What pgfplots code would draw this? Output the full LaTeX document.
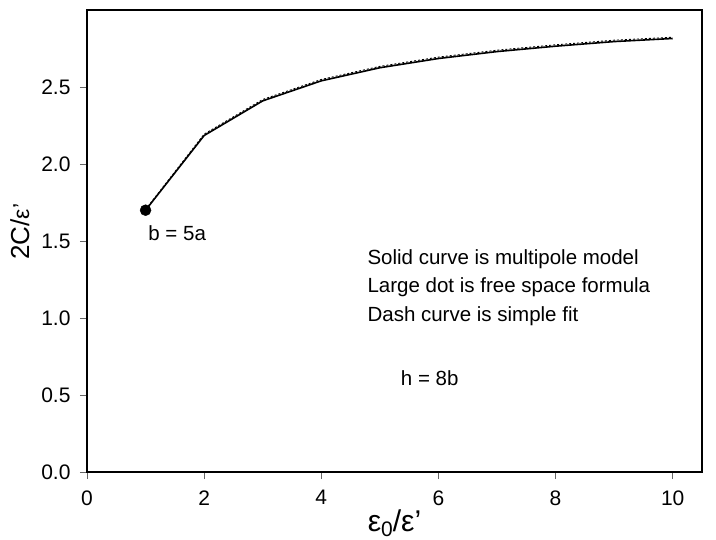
\documentclass[border=0pt]{standalone}
\usepackage{pgfplots}
\pgfplotsset{compat=1.18}
\usepackage{fontspec}
\setmainfont{Liberation Sans}
\begin{document}
\begin{tikzpicture}
\begin{axis}[
  scale only axis,
  width=615pt, height=462pt,
  xmin=0, xmax=10.5, ymin=0, ymax=3,
  xtick={0,2,4,6,8,10},
  ytick={0,0.5,1,1.5,2,2.5},
  yticklabel style={/pgf/number format/fixed,/pgf/number format/fixed zerofill,/pgf/number format/precision=1, xshift=-6pt},
  xticklabel style={yshift=-8pt},
  /pgf/number format/assume math mode=true,
  tick label style={font=\fontsize{21}{23}\selectfont},
  axis line style={line width=1.5pt},
  tick style={line width=0.8pt, gray!80!black},
  tick align=outside,
  major tick length=7pt,
  xtick pos=bottom, ytick pos=left,
  xlabel={\fontsize{30}{32}\selectfont ε\raisebox{-0.3ex}{\fontsize{21}{22}\selectfont 0}/ε'},
  ylabel={\fontsize{26}{28}\selectfont 2C/\fontsize{23}{24}\selectfont ε'},
  xlabel style={at={(axis description cs:0.5,0)}, anchor=north, yshift=-34pt},
  ylabel style={at={(axis description cs:-0.0878,0.52)}, anchor=south},
  clip=false,
]
\addplot[black, line width=1.6pt] coordinates {
 (1,1.70) (2,2.185) (3,2.41) (4,2.54) (5,2.625) (6,2.685) (7,2.73) (8,2.765) (9,2.795) (10,2.815)};
\addplot[black, line width=0.9pt, dash pattern=on 2pt off 2pt] coordinates {
 (1,1.705) (2,2.194) (3,2.419) (4,2.549) (5,2.634) (6,2.694) (7,2.739) (8,2.774) (9,2.804) (10,2.823)};
\addplot[only marks, mark=*, mark size=5.5pt, black] coordinates {(1,1.70)};
\node[anchor=base, font=\fontsize{20.5}{23}\selectfont] at (axis cs:1.54,1.50) {b = 5a};
\node[anchor=base west, font=\fontsize{20.5}{23}\selectfont] at (axis cs:4.73,1.35) {Solid curve is multipole model};
\node[anchor=base west, font=\fontsize{20.5}{23}\selectfont] at (axis cs:4.73,1.165) {Large dot is free space formula};
\node[anchor=base west, font=\fontsize{20.5}{23}\selectfont] at (axis cs:4.73,0.98) {Dash curve is simple fit};
\node[anchor=base west, font=\fontsize{20.5}{23}\selectfont] at (axis cs:5.3,0.56) {h = 8b};
\coordinate (SW) at (rel axis cs:0,0);
\coordinate (NE) at (rel axis cs:1,1);
\end{axis}
\path ([shift={(-87pt,-67pt)}]SW) rectangle ([shift={(14pt,10pt)}]NE);
\end{tikzpicture}
\end{document}
